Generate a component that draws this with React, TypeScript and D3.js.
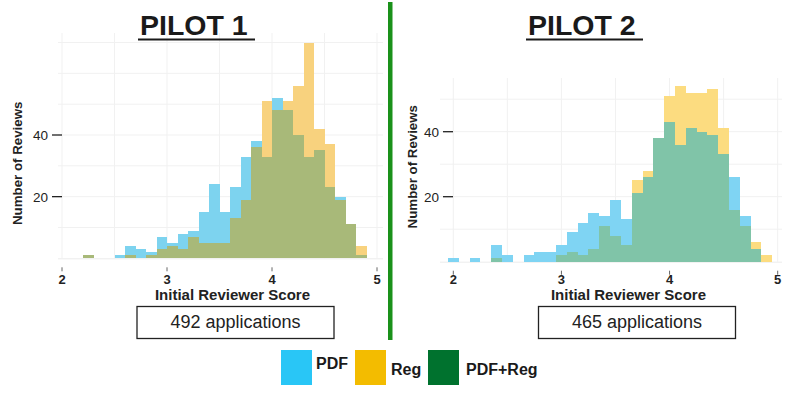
import React from 'react';
import * as d3 from 'd3';

// pilot 1 histogram: bins 0.1 wide, lower edge listed
const pilot1BinStart = [2.2, 2.3, 2.4, 2.5, 2.6, 2.7, 2.8, 2.9, 3.0, 3.1, 3.2, 3.3, 3.4, 3.5, 3.6, 3.7, 3.8, 3.9, 4.0, 4.1, 4.2, 4.3, 4.4, 4.5, 4.6, 4.7, 4.8];
const pilot1Pdf = [1, 0, 0, 1, 4, 3, 2, 7, 5, 8, 9, 15, 24, 15, 23, 33, 38, 33, 52, 48, 40, 33, 35, 23, 20, 11, 1];
const pilot1Reg = [1, 0, 0, 0, 1, 0, 1, 3, 4, 3, 7, 5, 5, 5, 13, 19, 36, 51, 48, 51, 56, 70, 42, 37, 19, 11, 4];

// pilot 2 histogram: bins 0.1 wide, centred on these scores
const pilot2BinMid = [2.0, 2.1, 2.2, 2.3, 2.4, 2.5, 2.6, 2.7, 2.8, 2.9, 3.0, 3.1, 3.2, 3.3, 3.4, 3.5, 3.6, 3.7, 3.8, 3.9, 4.0, 4.1, 4.2, 4.3, 4.4, 4.5, 4.6, 4.7, 4.8, 4.9];
const pilot2Pdf = [1, 0, 1, 0, 5, 2, 0, 2, 3, 3, 5, 9, 12, 15, 14, 19, 13, 21, 26, 38, 43, 36, 41, 40, 39, 33, 26, 14, 4, 0];
const pilot2Reg = [0, 0, 0, 0, 1, 0, 0, 0, 0, 0, 2, 3, 2, 4, 11, 8, 5, 25, 28, 38, 51, 54, 52, 52, 53, 41, 16, 11, 6, 2];

const xTicks = [2, 3, 4, 5];
const yTicks = [20, 40];
const pilotNames = ['PILOT 1', 'PILOT 2'];
const appCounts = [492, 465];
const legendNames = ['PDF', 'Reg', 'PDF+Reg'];
const legendColors = ['#29c6f6', '#f3bc00', '#00722e'];

const FONT = '"Liberation Sans", Arial, sans-serif';
const BW = 0.1;

type Bin = { x0: number; x1: number; pdf: number; reg: number };

const Panel = ({ bins, xs, ys, top, gridMax, gridX, colors, title, titleX, count, boxX, yLabelX, tickX }: any) => {
    const [blue, yellow, both] = colors;
    const base = ys(0);
    return (
        <g>
            {/* faint grid */}
            {d3.range(10, gridMax + 1, 10).map(v => (
                <line key={'h' + v} x1={gridX[0]} x2={gridX[1]} y1={ys(v)} y2={ys(v)} stroke="#f1f1f1" />
            ))}
            {d3.range(2, 5.01, 0.5).map(v => (
                <line key={'v' + v} x1={xs(v)} x2={xs(v)} y1={top} y2={base} stroke="#f1f1f1" />
            ))}
            <line x1={gridX[0]} x2={gridX[1]} y1={base + 0.5} y2={base + 0.5} stroke="#ececec" />
            {/* tallest series first, overlap colour on top; crisp edges so bins butt cleanly */}
            <g shapeRendering="crispEdges">
                {bins.map((b: Bin, i: number) => {
                    const hi = Math.max(b.pdf, b.reg);
                    if (hi <= 0) return null;
                    return <rect key={'hi' + i} x={xs(b.x0)} width={xs(b.x1) - xs(b.x0)} y={ys(hi)} height={base - ys(hi)} fill={b.pdf > b.reg ? blue : yellow} />;
                })}
                {bins.map((b: Bin, i: number) => {
                    const lo = Math.min(b.pdf, b.reg);
                    if (lo <= 0) return null;
                    return <rect key={'lo' + i} x={xs(b.x0)} width={xs(b.x1) - xs(b.x0)} y={ys(lo)} height={base - ys(lo)} fill={both} />;
                })}
            </g>
            {/* y axis */}
            {yTicks.map(t => (
                <g key={t}>
                    <line x1={tickX} x2={tickX + 10} y1={ys(t)} y2={ys(t)} stroke="#222" strokeWidth={1.3} />
                    <text x={tickX - 4} y={ys(t) + 5} textAnchor="end" fontSize={13.5} fill="#222">{t}</text>
                </g>
            ))}
            <text transform={`translate(${yLabelX},${ys(0) - 95}) rotate(-90)`} textAnchor="middle" fontSize={13.3} fontWeight="bold" fill="#222">Number of Reviews</text>
            {/* x axis */}
            {xTicks.map(t => (
                <g key={t}>
                    <line x1={xs(t)} x2={xs(t)} y1={base + 9} y2={base + 13} stroke="#666" />
                    <text x={xs(t)} y={284} textAnchor="middle" fontSize={13} fontWeight="bold" fill="#222">{t}</text>
                </g>
            ))}
            <text x={(xs(3) + xs(4)) / 2 + 13} y={300} textAnchor="middle" fontSize={15} fontWeight="bold" fill="#222">Initial Reviewer Score</text>
            <rect x={boxX} y={306.5} width={197} height={32} fill="#fff" stroke="#222" strokeWidth={1.3} />
            <text x={boxX + 98.5} y={328} textAnchor="middle" fontSize={18} fill="#222">{count} applications</text>
            {/* title */}
            <text x={titleX} y={35} fontSize={28.5} fontWeight="bold" fill="#1a1a1a">{title}</text>
            <line x1={titleX - 2} x2={titleX + 115} y1={39.5} y2={39.5} stroke="#1a1a1a" strokeWidth={2} />
        </g>
    );
};

export default function App() {
    const bins1: Bin[] = pilot1BinStart.map((s, i) => ({ x0: s, x1: s + BW, pdf: pilot1Pdf[i], reg: pilot1Reg[i] }));
    const bins2: Bin[] = pilot2BinMid.map((m, i) => ({ x0: m - BW / 2, x1: m + BW / 2, pdf: pilot2Pdf[i], reg: pilot2Reg[i] }));

    const xs1 = d3.scaleLinear().domain([2, 5]).range([62, 377]);
    const ys1 = d3.scaleLinear().domain([0, 40]).range([258.3, 135]);
    const xs2 = d3.scaleLinear().domain([2, 5]).range([453.3, 777.7]);
    const ys2 = d3.scaleLinear().domain([0, 40]).range([261.7, 131.7]);

    return (
        <svg width={792} height={394} style={{ position: 'absolute', left: 0, top: 0, background: '#fff' }} fontFamily={FONT}>
            <Panel bins={bins1} xs={xs1} ys={ys1} top={33} gridMax={70} gridX={[58, 383]}
                colors={['#7dd3ef', '#f8d27e', '#a8b979']} title={pilotNames[0]} titleX={140}
                count={appCounts[0]} boxX={137} yLabelX={22} tickX={52} />
            <Panel bins={bins2} xs={xs2} ys={ys2} top={78} gridMax={50} gridX={[440, 782]}
                colors={['#7fd4f3', '#fcdc80', '#80c4a8']} title={pilotNames[1]} titleX={528}
                count={appCounts[1]} boxX={538.5} yLabelX={417} tickX={443} />
            {/* divider */}
            <rect x={388} y={2} width={4.5} height={338} fill="#1a911a" />
            {/* legend */}
            {legendNames.map((n, i) => {
                const lx = [281, 355, 428][i];
                return (
                    <g key={n}>
                        <rect x={lx} y={350} width={31} height={35} fill={legendColors[i]} />
                        <text x={lx + 35 + (i === 1 ? 1 : i === 2 ? 3 : 0)} y={370 + (i === 0 ? -1 : 5)} fontSize={16} fontWeight="bold" fill="#1a1a1a">{n}</text>
                    </g>
                );
            })}
        </svg>
    );
}
